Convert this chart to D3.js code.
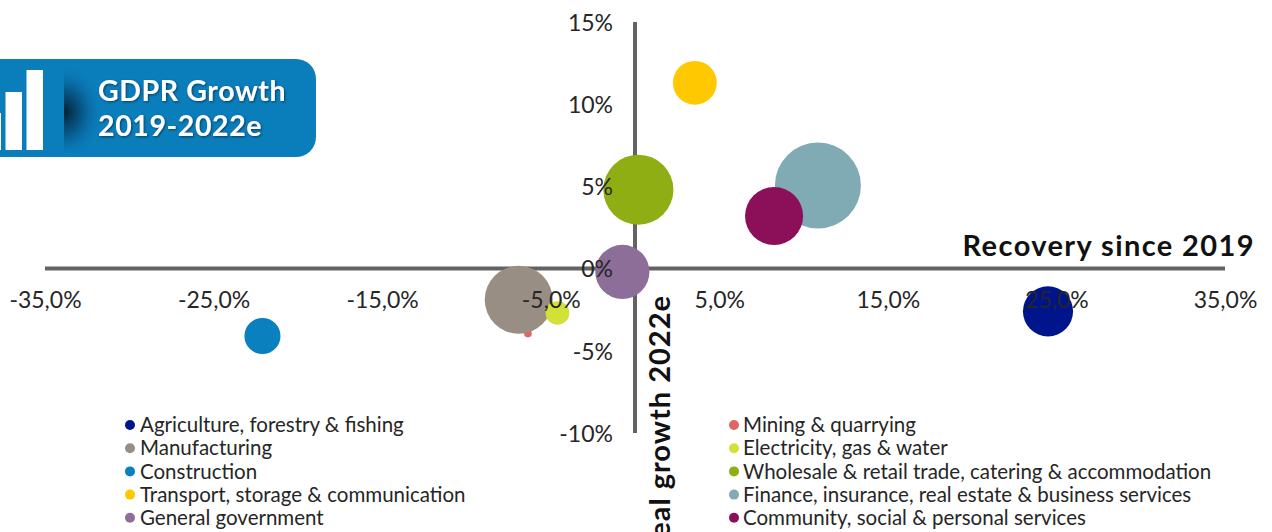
<!DOCTYPE html>
<html>
<head>
<meta charset="utf-8">
<title>GDPR Growth 2019-2022e</title>
<script src="https://cdn.jsdelivr.net/npm/d3@7"></script>
<style>
  html, body { margin: 0; padding: 0; background: #fff; overflow: hidden; }
  svg { display: block; }
  text { font-family: Lato, "Open Sans", sans-serif; }
</style>
</head>
<body>
<div id="chart"></div>
<script>
// Sector data: recovery since 2019 (%), real growth 2022e (%), share used for bubble area
const sectors = [
  'Agriculture, forestry & fishing', 'Mining & quarrying',
  'Manufacturing', 'Electricity, gas & water',
  'Construction', 'Wholesale & retail trade, catering & accommodation',
  'Transport, storage & communication', 'Finance, insurance, real estate & business services',
  'General government', 'Community, social & personal services'
];
const recovery = [24.5, -6.35, -6.9, -4.6, -22.1, 0.2, 3.55, 10.85, -0.75, 8.25];
const growth = [-2.6, -3.95, -1.9, -2.7, -4.1, 4.8, 11.3, 5.05, -0.2, 3.2];
const shares = [8.5, 0.2, 15.6, 1.9, 4.4, 16.6, 6.5, 25, 9.9, 11.4];
const colors = ['#00148c', '#e06666', '#998e84', '#d2e038', '#0a80bf', '#8fae14', '#ffc800', '#80aab4', '#8c6e98', '#8c0f5a'];

const xTicks = [-35, -25, -15, -5, 5, 15, 25, 35];
const yTicks = [-10, -5, 0, 5, 10, 15];
const iconBars = [37, 58, 80];

const width = 1272, height = 532;
const textColor = '#262626', axisColor = '#636363';

const x = d3.scaleLinear().domain([-35, 35]).range([45, 1225]);
const y = d3.scaleLinear().domain([-10, 15]).range([433, 22]);
const r = d3.scaleSqrt().domain([0, 25]).range([0, 43]);

const svg = d3.select('#chart').append('svg')
  .attr('width', width)
  .attr('height', height);

const defs = svg.append('defs');

const shade = defs.append('radialGradient').attr('id', 'bannerShade');
shade.append('stop').attr('offset', '0%').attr('stop-color', '#04202f').attr('stop-opacity', 1);
shade.append('stop').attr('offset', '45%').attr('stop-color', '#04385a').attr('stop-opacity', 0.55);
shade.append('stop').attr('offset', '100%').attr('stop-color', '#0a7dbb').attr('stop-opacity', 0);

defs.append('clipPath').attr('id', 'shadeClip')
  .append('rect').attr('x', 64).attr('y', 67).attr('width', 50).attr('height', 86);

const soft = defs.append('filter').attr('id', 'textShadow')
  .attr('x', '-10%').attr('y', '-20%').attr('width', '120%').attr('height', '140%');
soft.append('feDropShadow')
  .attr('dx', 1).attr('dy', 1).attr('stdDeviation', 1)
  .attr('flood-color', '#03304a').attr('flood-opacity', 0.8);

// Banner in the top left corner
const banner = svg.append('g');
banner.append('rect')
  .attr('x', -30).attr('y', 59)
  .attr('width', 346).attr('height', 98)
  .attr('rx', 20)
  .attr('fill', '#0a7dbb');

const iconY = d3.scaleLinear().domain([0, 80]).range([150, 70]);
banner.selectAll('rect.bar')
  .data(iconBars)
  .enter()
  .append('rect')
  .attr('class', 'bar')
  .attr('x', (d, i) => -15.5 + i * 21)
  .attr('y', d => iconY(d))
  .attr('width', 16.5)
  .attr('height', d => iconY(0) - iconY(d))
  .attr('fill', '#fff');

banner.append('ellipse')
  .attr('cx', 64).attr('cy', 112)
  .attr('rx', 40).attr('ry', 48)
  .attr('fill', 'url(#bannerShade)')
  .attr('clip-path', 'url(#shadeClip)');

banner.selectAll('text')
  .data(['GDPR Growth', '2019-2022e'])
  .enter()
  .append('text')
  .attr('x', 98)
  .attr('y', (d, i) => 101 + i * 35)
  .attr('fill', '#fff')
  .attr('font-size', 28.5)
  .attr('font-weight', 700)
  .attr('letter-spacing', 0.6)
  .attr('filter', 'url(#textShadow)')
  .text(d => d);

// Axis lines cross at zero
svg.append('line')
  .attr('x1', x(-35)).attr('x2', x(35))
  .attr('y1', y(0)).attr('y2', y(0))
  .attr('stroke', axisColor).attr('stroke-width', 4);
svg.append('line')
  .attr('x1', x(0)).attr('x2', x(0))
  .attr('y1', y(15)).attr('y2', y(-10))
  .attr('stroke', axisColor).attr('stroke-width', 4);

// Bubbles, largest drawn in data order
svg.append('g')
  .selectAll('circle')
  .data(sectors)
  .enter()
  .append('circle')
  .attr('cx', (d, i) => x(recovery[i]))
  .attr('cy', (d, i) => y(growth[i]))
  .attr('r', (d, i) => r(shares[i]))
  .attr('fill', (d, i) => colors[i]);

// Tick labels sit on top of the bubbles
const xAxis = d3.axisBottom(x)
  .tickValues(xTicks)
  .tickSize(0)
  .tickPadding(23)
  .tickFormat(d => d.toFixed(1).replace('.', ',') + '%');
const yAxis = d3.axisLeft(y)
  .tickValues(yTicks)
  .tickSize(0)
  .tickPadding(22)
  .tickFormat(d => d + '%');

const xG = svg.append('g').attr('transform', `translate(0,${y(0)})`).call(xAxis);
const yG = svg.append('g').attr('transform', `translate(${x(0)},1)`).call(yAxis);
[xG, yG].forEach(g => {
  g.select('.domain').remove();
  g.selectAll('text')
    .attr('font-size', 23)
    .attr('font-family', 'Lato, sans-serif')
    .attr('fill', textColor);
});

// Axis titles
svg.append('text')
  .attr('x', 1255)
  .attr('y', 256)
  .attr('text-anchor', 'end')
  .attr('font-size', 29)
  .attr('font-weight', 700)
  .attr('fill', '#111')
  .attr('letter-spacing', 1.4)
  .text('Recovery since 2019');

svg.append('text')
  .attr('transform', 'translate(670,295) rotate(-90)')
  .attr('text-anchor', 'end')
  .attr('font-size', 29)
  .attr('font-weight', 700)
  .attr('fill', '#111')
  .attr('letter-spacing', 1)
  .text('Real growth 2022e');

// Legend, two columns of five
const legend = svg.append('g')
  .selectAll('g')
  .data(sectors)
  .enter()
  .append('g')
  .attr('transform', (d, i) => `translate(${i % 2 ? 734 : 130},${425 + Math.floor(i / 2) * 23.2})`);

legend.append('circle')
  .attr('r', 5)
  .attr('fill', (d, i) => colors[i]);

legend.append('text')
  .attr('x', (d, i) => i % 2 ? 9 : 10)
  .attr('dy', '0.35em')
  .attr('font-size', 20.5)
  .attr('fill', textColor)
  .text(d => d);
</script>
</body>
</html>
